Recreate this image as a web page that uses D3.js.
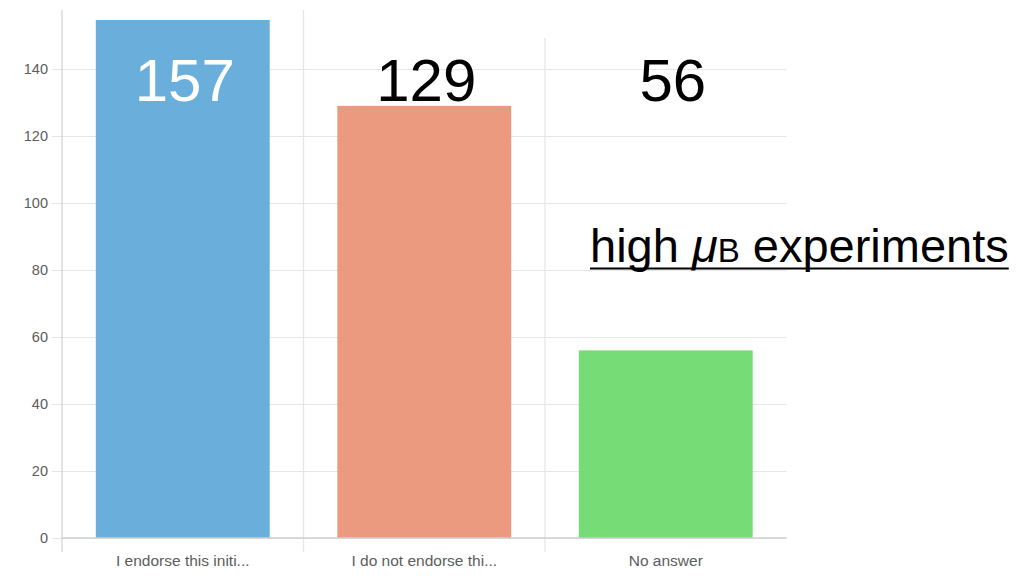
<!DOCTYPE html>
<html>
<head>
<meta charset="utf-8">
<script src="https://cdn.jsdelivr.net/npm/d3@7"></script>
<style>
  html, body { margin: 0; padding: 0; background: #fff; }
  svg { display: block; }
</style>
</head>
<body>
<svg id="chart" width="1024" height="581"></svg>
<script>
// ---- data ----
const categories = ["I endorse this initi...", "I do not endorse thi...", "No answer"];
const values = [157, 129, 56];
const barColors = ["#6aafdb", "#ec9a7f", "#76dc76"];
const valueLabelColors = ["#ffffff", "#000000", "#000000"];
const yTicks = [0, 20, 40, 60, 80, 100, 120, 140];
const annotationMain = "high ";
const annotationSymbol = "μ";
const annotationSub = "B";
const annotationTail = " experiments";

// ---- layout ----
const W = 1024, H = 581;
const left = 62, right = 786.5, bottom = 538, plotTop = 10, barClipTop = 20;
const svg = d3.select("#chart");

const x = d3.scaleBand().domain(categories).range([left, right])
  .paddingInner(0.28).paddingOuter(0.14);
const y = d3.scaleLinear().domain([0, 140]).range([bottom, 69]);

// horizontal gridlines + y axis ticks
const yAxis = d3.axisLeft(y).tickValues(yTicks).tickSize(right - left + 10).tickPadding(4);
const gy = svg.append("g").attr("transform", `translate(${right},0)`).call(yAxis);
gy.select(".domain").remove();
gy.selectAll(".tick line").attr("stroke", "#e6e6e6").attr("stroke-width", 1.2);
gy.selectAll(".tick text").attr("fill", "#5c5c5c").attr("font-family", "Liberation Sans, Arial, sans-serif")
  .attr("font-size", 14.5);

// vertical gridlines at band boundaries
const boundaries = categories.map((c, i) => left + i * x.step());
svg.append("g").selectAll("line").data(boundaries).join("line")
  .attr("x1", d => d).attr("x2", d => d)
  .attr("y1", plotTop).attr("y2", bottom + 14)
  .attr("stroke", (d, i) => i === 0 ? "#d6d6d6" : "#e6e6e6").attr("stroke-width", 1.3);

// bars (clipped at top of plot)
svg.append("clipPath").attr("id", "clip").append("rect")
  .attr("x", 0).attr("y", barClipTop).attr("width", W).attr("height", bottom - barClipTop);
svg.append("g").attr("clip-path", "url(#clip)").selectAll("rect").data(values).join("rect")
  .attr("x", (d, i) => x(categories[i]))
  .attr("width", x.bandwidth())
  .attr("y", d => y(d))
  .attr("height", d => y(0) - y(d))
  .attr("fill", (d, i) => barColors[i]);

// bottom axis line
svg.append("line").attr("x1", left).attr("x2", right).attr("y1", bottom).attr("y2", bottom)
  .attr("stroke", "#cfcfcf").attr("stroke-width", 1.3);

// category labels
const xAxis = d3.axisBottom(x).tickSize(0).tickPadding(17);
const gx = svg.append("g").attr("transform", `translate(0,${bottom})`).call(xAxis);
gx.select(".domain").remove();
gx.selectAll(".tick text").attr("fill", "#5c5c5c").attr("font-family", "Liberation Sans, Arial, sans-serif")
  .attr("font-size", 15.5);

// cover region (pasted annotation area)
svg.append("rect").attr("x", 520).attr("y", 0).attr("width", W - 520).attr("height", 38).attr("fill", "#fff");

// big value labels
svg.append("g").selectAll("text").data(values).join("text")
  .attr("x", (d, i) => x(categories[i]) + x.bandwidth() / 2 + 2 + (i === 2 ? 5 : 0))
  .attr("y", 101)
  .attr("text-anchor", "middle")
  .attr("font-family", "Liberation Sans, Arial, sans-serif")
  .attr("font-size", 60)
  .attr("fill", (d, i) => valueLabelColors[i])
  .text(d => d);

// annotation
const ann = svg.append("text").attr("x", 590).attr("y", 262)
  .attr("font-family", "Liberation Sans, Arial, sans-serif").attr("font-size", 47).attr("fill", "#000");
ann.append("tspan").text(annotationMain);
ann.append("tspan").attr("font-style", "italic").text(annotationSymbol);
ann.append("tspan").attr("font-size", 33).text(annotationSub);
ann.append("tspan").text(annotationTail);
const bb = ann.node().getBBox();
svg.append("line").attr("x1", bb.x).attr("x2", bb.x + bb.width).attr("y1", 268.5).attr("y2", 268.5)
  .attr("stroke", "#000").attr("stroke-width", 2.2);
</script>
</body>
</html>
